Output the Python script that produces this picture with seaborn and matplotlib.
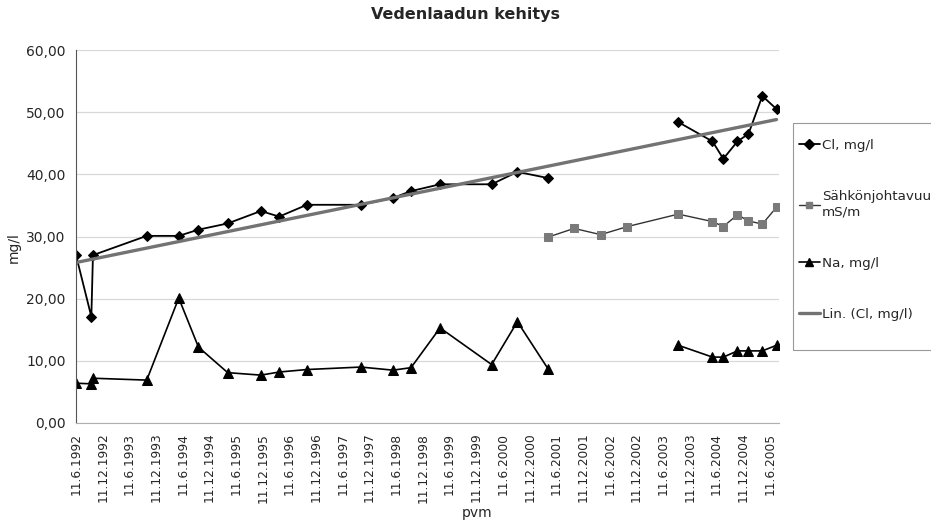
import numpy as np
import pandas as pd
import matplotlib
matplotlib.use("Agg")
from matplotlib import pyplot as plt
from matplotlib.lines import Line2D
from matplotlib.patches import Rectangle
import seaborn as sns

# sample dates (shared by all series, NaN = no measurement)
dates = ["1992-06-11", "1992-09-24", "1992-10-05", "1993-10-08", "1994-05-15",
         "1994-09-27", "1995-04-15", "1995-11-28", "1996-04-01", "1996-10-08",
         "1997-10-12", "1998-05-20", "1998-09-20", "1999-04-07", "2000-03-25",
         "2000-09-17", "2001-04-15", "2001-10-10", "2002-04-10", "2002-10-10",
         "2003-09-23", "2004-05-14", "2004-07-27", "2004-11-01", "2005-01-15",
         "2005-04-20", "2005-07-26"]

cl = [27.0, 17.1, 27.0, 30.1, 30.1, 31.1, 32.1, 34.1, 33.2, 35.1,
      35.1, 36.2, 37.3, 38.4, 38.4, 40.4, 39.4, np.nan, np.nan, np.nan,
      48.4, 45.3, 42.5, 45.3, 46.5, 52.6, 50.5]
sahko = [np.nan] * 16 + [29.9, 31.3, 30.3, 31.6, 33.6, 32.4, 31.6, 33.5, 32.5, 32.0, 34.7]
na = [6.4, 6.3, 7.2, 6.9, 20.1, 12.2, 8.1, 7.7, 8.2, 8.6,
      9.0, 8.5, 8.9, 15.3, 9.4, 16.3, 8.7, np.nan, np.nan, np.nan,
      12.5, 10.6, 10.6, 11.6, 11.6, 11.6, 12.5]

labels = ["Cl, mg/l", "Sähkönjohtavuus\nmS/m", "Na, mg/l", "Lin. (Cl, mg/l)"]
tick_dates = [f"{y}-{m:02d}-11" for y in range(1992, 2006) for m in (6, 12)][:-1]
tick_labels = [f"11.{m}.{y}" for y in range(1992, 2006) for m in (6, 12)][:-1]
y_ticks = [0, 10, 20, 30, 40, 50, 60]


def segments(values):
    # split a series into runs without gaps, so seaborn draws broken lines
    df = pd.DataFrame({"pvm": pd.to_datetime(dates), "value": values})
    df["seg"] = df["value"].isna().cumsum()
    return df.dropna()


sns.set_style("white")
plt.rcParams["font.family"] = ["DejaVu Sans"]

fig = plt.figure(figsize=(9.31, 5.22), dpi=100)
ax = fig.add_axes([76 / 931, 1 - 423 / 522, 703 / 931, 373 / 522])

sns.lineplot(data=segments(cl), x="pvm", y="value", units="seg", estimator=None,
             color="black", marker="D", markersize=5, linewidth=1.3,
             markeredgecolor="black", ax=ax)
sns.lineplot(data=segments(sahko), x="pvm", y="value", units="seg", estimator=None,
             color="#333333", marker="s", markersize=6, linewidth=1.0,
             markerfacecolor="#7a7a7a", markeredgecolor="#7a7a7a", ax=ax)
sns.lineplot(data=segments(na), x="pvm", y="value", units="seg", estimator=None,
             color="black", marker="^", markersize=6.5, linewidth=1.2,
             markeredgecolor="black", ax=ax)

# linear trend of Cl
cl_df = segments(cl)
xnum = (cl_df["pvm"] - pd.Timestamp("1900-01-01")).dt.days.values
k, b = np.polyfit(xnum, cl_df["value"].values, 1)
trend = pd.DataFrame({"pvm": [cl_df["pvm"].min(), cl_df["pvm"].max()],
                      "value": [k * xnum.min() + b, k * xnum.max() + b]})
sns.lineplot(data=trend, x="pvm", y="value", color="#737373", linewidth=2.4, ax=ax)

ax.set_xlim(pd.Timestamp("1992-06-11"), pd.Timestamp("2005-08-12"))
ax.set_ylim(0, 60)
ax.set_yticks(y_ticks)
ax.set_yticklabels([f"{v:.2f}".replace(".", ",") for v in y_ticks], fontsize=10)
ax.set_xticks(pd.to_datetime(tick_dates))
ax.set_xticklabels(tick_labels, rotation=90, fontsize=8.8)
ax.tick_params(axis="both", direction="out", length=4, width=0.8, color="#888888")
ax.tick_params(axis="x", pad=3)

ax.yaxis.grid(True, color="#d8d8d8", linewidth=0.9)
ax.xaxis.grid(False)
for s in ["top", "right"]:
    ax.spines[s].set_visible(False)
ax.spines["left"].set_color("#555555")
ax.spines["bottom"].set_color("#b0b0b0")

ax.set_xlabel("pvm", fontsize=10)
ax.xaxis.set_label_coords(0.57, -0.222)
ax.set_ylabel("mg/l", fontsize=10)
ax.yaxis.set_label_coords(-0.078, 0.47)

fig.text(0.5, 1 - 14 / 522, "Vedenlaadun kehitys", ha="center", va="center",
         fontsize=11.5, fontweight="bold")

# legend box, cut by the right edge as in the original
fig.patches.append(Rectangle((793 / 931, 1 - 350 / 522), 0.2, 227 / 522,
                             transform=fig.transFigure, facecolor="white",
                             edgecolor="#999999", linewidth=0.8, zorder=0))

handles = [
    Line2D([], [], color="black", marker="D", markersize=5, linewidth=1.3),
    Line2D([], [], color="#333333", marker="s", markersize=5, linewidth=1.0,
           markerfacecolor="#7a7a7a", markeredgecolor="#7a7a7a"),
    Line2D([], [], color="black", marker="^", markersize=6, linewidth=1.2),
    Line2D([], [], color="#737373", linewidth=2.4),
]
leg = fig.legend(handles, labels, loc="upper left",
                 bbox_to_anchor=(799 / 931, 1 - 139 / 522),
                 fontsize=9.7, frameon=False, labelspacing=2.85,
                 borderpad=0, handlelength=1.55, handletextpad=0.15,
                 borderaxespad=0)

fig.savefig("out.png", dpi=100)
